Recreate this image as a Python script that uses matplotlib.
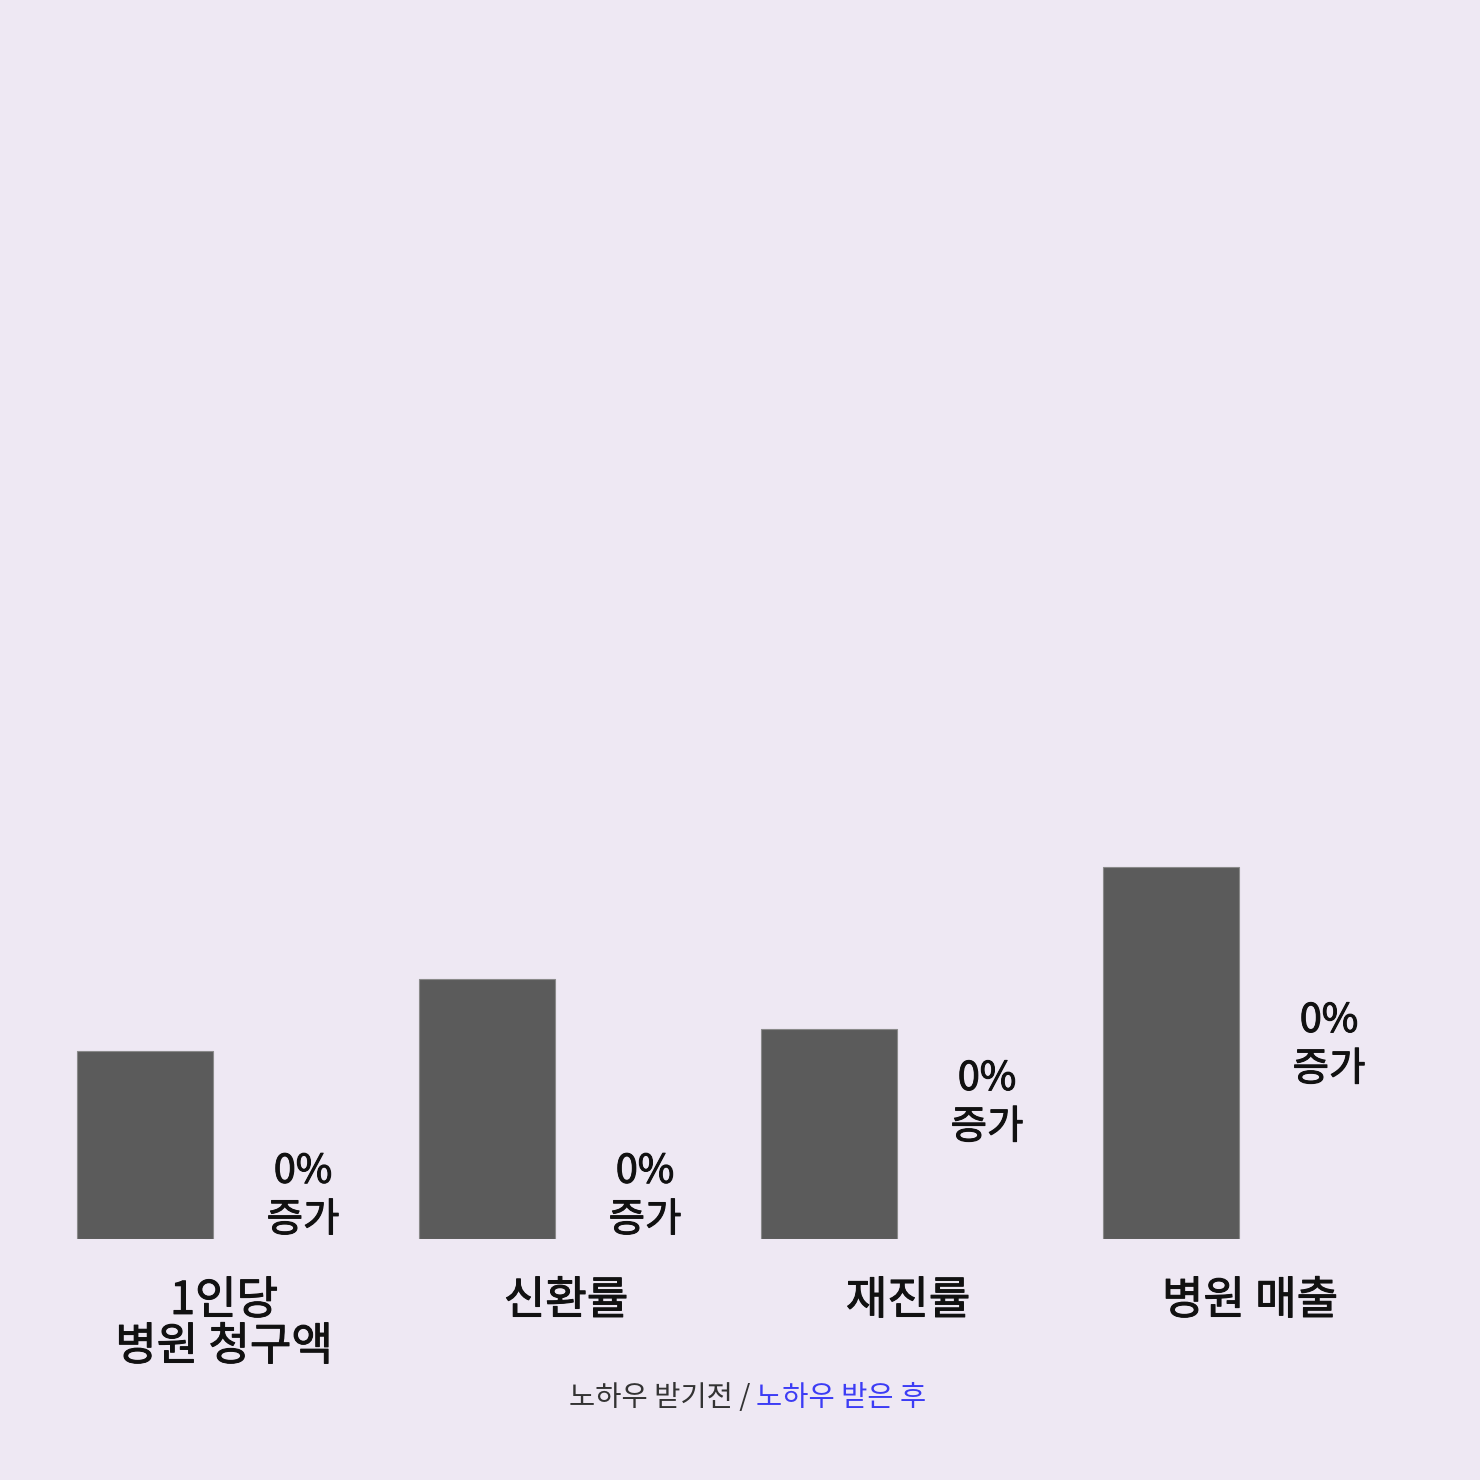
import matplotlib
matplotlib.use('Agg')
import matplotlib.pyplot as plt
import matplotlib.patheffects as pe
import numpy as np

plt.rcParams['font.family'] = ['Noto Sans CJK KR', 'DejaVu Sans']

categories = ['1인당\n병원 청구액', '신환률', '재진률', '병원 매출']
before = [16.2, 22.4, 18.1, 32.1]     # 노하우 받기전
after = [0.0, 0.0, 8.0, 13.0]         # 노하우 받은 후 (막대는 보이지 않음)
after_labels = ['0%\n증가', '0%\n증가', '0%\n증가', '0%\n증가']

bg = '#EEE8F3'
ink = '#111111'
# regular 글꼴을 살짝 두껍게 (medium 느낌)
thick = [pe.withStroke(linewidth=0.75, foreground=ink)]

fig = plt.figure(figsize=(14.8, 14.8), dpi=100, facecolor=bg)
ax = fig.add_axes([0, (1480-1239)/1480, 1, 1160/1480])
ax.set_facecolor(bg)

x = np.arange(len(categories))
w = 136/342
off = 79/342
ax.bar(x - off, before, w, color='#5B5B5B', edgecolor='#8A8A8A', linewidth=0.8)

for xi, a, lab in zip(x, after, after_labels):
    ax.annotate(lab, (xi + off, a), xytext=(0, -1), textcoords='offset points',
                ha='center', va='bottom', fontsize=28.5, color=ink,
                linespacing=1.28, path_effects=thick)

ax.set_xlim(-224/342, (1480-224)/342)
ax.set_ylim(0, 100)
ax.set_xticks(x)
ax.set_xticklabels(categories, fontsize=32.5, color=ink, linespacing=1.0,
                   path_effects=thick)
ax.tick_params(axis='x', length=0, pad=28)
ax.set_yticks([])
for s in ax.spines.values():
    s.set_visible(False)

fig.text(750/1480, 1-1398/1480, '노하우 받기전 /', ha='right', va='center',
         fontsize=20.5, color='#333333')
fig.text(756/1480, 1-1398/1480, '노하우 받은 후', ha='left', va='center',
         fontsize=20.5, color='#3C3CF5')

fig.savefig('out.png', dpi=100, facecolor=bg)
